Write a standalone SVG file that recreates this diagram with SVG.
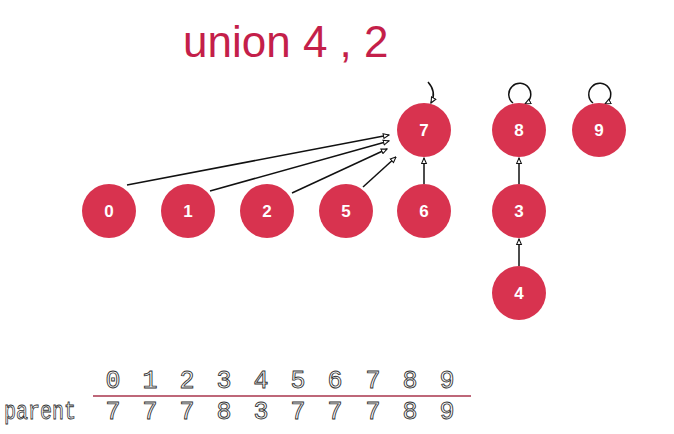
<svg xmlns="http://www.w3.org/2000/svg" width="674" height="434" viewBox="0 0 674 434">
<style>
.node circle{fill:#d8334f;}
.node text{fill:#fff;font-family:"Liberation Sans",Arial,sans-serif;font-weight:bold;font-size:17px;text-anchor:middle;}
.edge{stroke:#111;stroke-width:1.5;fill:none;marker-end:url(#ah);}
.mono{font-family:"Liberation Mono","DejaVu Sans Mono",monospace;font-size:25px;fill:#fff;stroke:#333;stroke-width:0.9;text-anchor:middle;}
</style>
<defs>
<marker id="ah" viewBox="0 0 10 10" refX="9" refY="5" markerWidth="7" markerHeight="7" orient="auto" markerUnits="userSpaceOnUse">
<path d="M1,1.5 L9,5 L1,8.5 Z" fill="#fff" stroke="#111" stroke-width="1.5"/>
</marker>
</defs>
<rect width="674" height="434" fill="#fff"/>
<text x="183" y="57" font-family="Liberation Sans,Arial,sans-serif" font-size="44" fill="#c41f4a">union 4 , 2</text>
<g id="connectors">
<line class="edge" x1="127" y1="185" x2="389" y2="135"/>
<line class="edge" x1="210" y1="191" x2="389" y2="141"/>
<line class="edge" x1="292" y1="193" x2="387" y2="149"/>
<line class="edge" x1="363" y1="187" x2="396" y2="157"/>
<line class="edge" x1="424" y1="184" x2="424" y2="158"/>
<line class="edge" x1="519" y1="184" x2="519" y2="158"/>
<line class="edge" x1="519" y1="266" x2="519" y2="239"/>
<path class="edge" d="M428,82 Q437,92 431,103"/>
<path class="edge" d="M513,103 A11,11 0 1 1 525,104"/>
<path class="edge" d="M593,103 A11,11 0 1 1 605,104"/>
</g>
<g id="n7" class="node"><circle cx="424" cy="130" r="27"/><text x="424" y="136">7</text></g>
<g id="n8" class="node"><circle cx="519" cy="130" r="27"/><text x="519" y="136">8</text></g>
<g id="n9" class="node"><circle cx="599" cy="130" r="27"/><text x="599" y="136">9</text></g>
<g id="n0" class="node"><circle cx="109" cy="211" r="27"/><text x="109" y="217">0</text></g>
<g id="n1" class="node"><circle cx="188" cy="211" r="27"/><text x="188" y="217">1</text></g>
<g id="n2" class="node"><circle cx="267" cy="211" r="27"/><text x="267" y="217">2</text></g>
<g id="n5" class="node"><circle cx="346" cy="211" r="27"/><text x="346" y="217">5</text></g>
<g id="n6" class="node"><circle cx="424" cy="211" r="27"/><text x="424" y="217">6</text></g>
<g id="n3" class="node"><circle cx="519" cy="211" r="27"/><text x="519" y="217">3</text></g>
<g id="n4" class="node"><circle cx="519" cy="293" r="27"/><text x="519" y="299">4</text></g>
<g id="table">
<line x1="93" y1="396" x2="471" y2="396" stroke="#a8344c" stroke-width="1.5"/>
<text class="mono" x="113" y="388">0</text>
<text class="mono" x="150" y="388">1</text>
<text class="mono" x="187" y="388">2</text>
<text class="mono" x="224" y="388">3</text>
<text class="mono" x="261" y="388">4</text>
<text class="mono" x="298" y="388">5</text>
<text class="mono" x="335" y="388">6</text>
<text class="mono" x="373" y="388">7</text>
<text class="mono" x="410" y="388">8</text>
<text class="mono" x="447" y="388">9</text>
<text class="mono" x="4" y="419" style="text-anchor:start" textLength="72" lengthAdjust="spacingAndGlyphs">parent</text>
<text class="mono" x="113" y="419">7</text>
<text class="mono" x="150" y="419">7</text>
<text class="mono" x="187" y="419">7</text>
<text class="mono" x="224" y="419">8</text>
<text class="mono" x="261" y="419">3</text>
<text class="mono" x="298" y="419">7</text>
<text class="mono" x="335" y="419">7</text>
<text class="mono" x="373" y="419">7</text>
<text class="mono" x="410" y="419">8</text>
<text class="mono" x="447" y="419">9</text>
</g>
</svg>
